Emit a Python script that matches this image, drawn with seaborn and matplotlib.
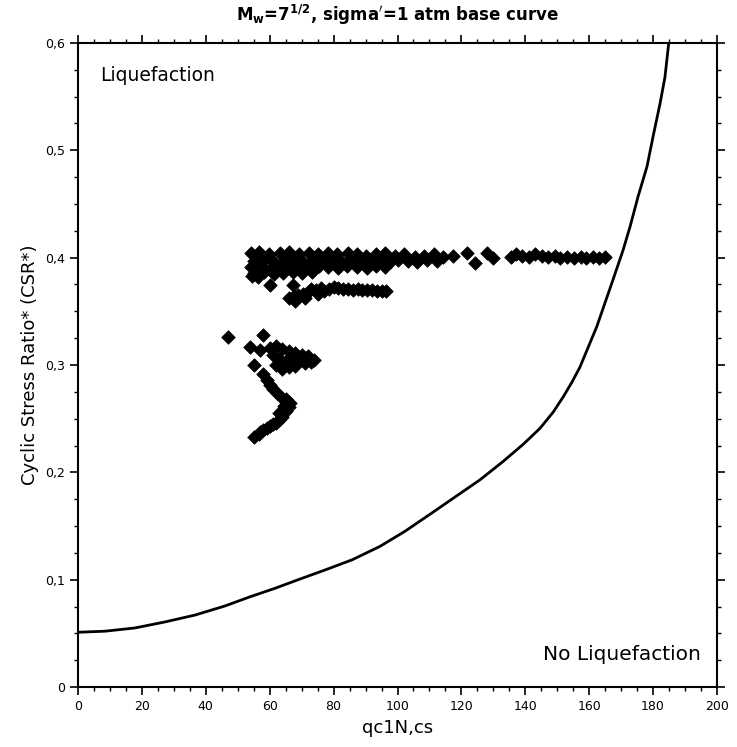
import matplotlib
matplotlib.use("Agg")
import matplotlib.pyplot as plt
import matplotlib.ticker as mticker
import seaborn as sns
import pandas as pd

# Base curve (CRR)
curve_q = [0, 8.5, 17.8, 27.2, 36.6, 46.0, 53.8, 61.7, 69.5, 77.3, 85.8, 94.5,
           102.3, 110.2, 118.0, 125.8, 133.0, 139.3, 144.6, 148.7, 151.8, 154.6,
           157.1, 162.4, 167.4, 170.6, 172.8, 175.3, 178.1, 180.0, 182.2, 183.7,
           184.9]
curve_crr = [0.051, 0.052, 0.055, 0.0606, 0.067, 0.0755, 0.084, 0.092, 0.1006,
             0.109, 0.1185, 0.131, 0.145, 0.161, 0.177, 0.193, 0.210, 0.226, 0.241,
             0.256, 0.270, 0.284, 0.298, 0.336, 0.379, 0.407, 0.429, 0.457, 0.485,
             0.513, 0.544, 0.568, 0.6]

# Upper band of data points
upper_q = [54, 56.5, 59.8, 63.2, 65.9, 69.1, 72.4, 75.2, 78.3, 81.1, 84.6, 87.2,
           90.1, 93.4, 96.2, 99.3, 102.1, 105.4, 108.2, 111.5, 114.3, 117.4,
           55.2, 58.1, 61.3, 64.4, 67.2, 70.5, 73.1, 76.4, 79.2, 82.3, 85.1,
           88.4, 91.2, 94.3, 97.5, 100.2, 103.4, 106.1, 109.3, 112.4,
           54.3, 57.2, 60.4, 63.1, 66.3, 69.2, 72.5, 75.3, 78.1, 81.4, 84.2,
           87.3, 90.4, 93.2, 96.1,
           55.1, 58.3, 61.2, 64.1, 67.4, 70.2, 73.3, 54.4, 56.2,
           121.8, 124.3, 128.0, 129.9,
           135.5, 137.2, 139.1, 141.3, 143.0, 145.2, 147.1, 149.3, 151.0,
           153.2, 155.1, 157.3, 159.0, 161.2, 163.0, 165.0]
upper_crr = [0.404, 0.405, 0.403, 0.404, 0.405, 0.403, 0.404, 0.403, 0.404, 0.403,
             0.404, 0.403, 0.402, 0.403, 0.404, 0.402, 0.403, 0.401, 0.402, 0.403,
             0.401, 0.402,
             0.397, 0.398, 0.396, 0.397, 0.398, 0.396, 0.397, 0.398, 0.396, 0.397,
             0.398, 0.396, 0.397, 0.397, 0.396, 0.398, 0.397, 0.396, 0.398, 0.397,
             0.391, 0.392, 0.390, 0.391, 0.392, 0.390, 0.391, 0.392, 0.391, 0.390,
             0.392, 0.391, 0.390, 0.392, 0.391,
             0.386, 0.387, 0.385, 0.386, 0.387, 0.386, 0.387, 0.383, 0.382,
             0.4045, 0.395, 0.4045, 0.400,
             0.401, 0.403, 0.402, 0.401, 0.403, 0.402, 0.401, 0.402, 0.400,
             0.401, 0.400, 0.401, 0.400, 0.401, 0.400, 0.401]

# Middle band
mid_q = [60.1, 67.3, 66.0, 67.5, 69.0, 70.5, 72.0, 73.0, 74.5, 76.0, 77.0, 78.5,
         80.0, 81.5, 83.0, 84.5, 86.0, 87.5, 89.0, 90.5, 92.0, 93.5, 95.0, 96.5,
         68.0, 71.0, 75.0]
mid_crr = [0.3746, 0.3746, 0.362, 0.364, 0.365, 0.366, 0.368, 0.371, 0.370, 0.372,
           0.369, 0.371, 0.373, 0.372, 0.371, 0.371, 0.370, 0.371, 0.370, 0.370,
           0.370, 0.369, 0.369, 0.369, 0.360, 0.362, 0.366]

# Lower cluster
low_q = [47.0, 58.0, 53.8, 57.0, 55.0, 60, 62, 64, 66, 68, 70, 72, 74, 61, 63, 65,
         67, 69, 71, 73, 62, 64, 66, 68, 58, 59, 60, 61, 62.3, 63.5, 65, 66.4, 66,
         65, 64, 63, 62, 60, 58, 56.5, 55, 57, 59, 61, 63, 64.5]
low_crr = [0.326, 0.328, 0.317, 0.314, 0.300, 0.316, 0.318, 0.315, 0.313, 0.311,
           0.309, 0.308, 0.305, 0.309, 0.306, 0.304, 0.303, 0.305, 0.302, 0.303,
           0.300, 0.296, 0.298, 0.299, 0.292, 0.286, 0.281, 0.278, 0.274, 0.270,
           0.268, 0.265, 0.261, 0.257, 0.252, 0.249, 0.246, 0.243, 0.239, 0.236,
           0.233, 0.238, 0.241, 0.245, 0.255, 0.262]

x_ticks = [0, 20, 40, 60, 80, 100, 120, 140, 160, 180, 200]
y_ticks = [0, 0.1, 0.2, 0.3, 0.4, 0.5, 0.6]
y_tick_labels = ["0", "0,1", "0,2", "0,3", "0,4", "0,5", "0,6"]

sns.set_theme(style="ticks")
plt.rcParams['font.family'] = ['DejaVu Sans']
plt.rcParams['text.color'] = 'black'
plt.rcParams['axes.labelcolor'] = 'black'

pts = pd.DataFrame({"q": upper_q + mid_q + low_q,
                    "crr": upper_crr + mid_crr + low_crr})
curve = pd.DataFrame({"q": curve_q, "crr": curve_crr})

fig = plt.figure(figsize=(7.37, 7.47), dpi=100)
ax = fig.add_axes([78 / 737, 60 / 747, 639 / 737, 644 / 747])

sns.lineplot(data=curve, x="q", y="crr", ax=ax, color="black", linewidth=2,
             sort=False, estimator=None)
sns.scatterplot(data=pts, x="q", y="crr", ax=ax, marker="D", s=48,
                color="black", edgecolor="black", linewidth=0.5)

ax.set_xlim(0, 200)
ax.set_ylim(0, 0.6)
ax.set_xticks(x_ticks)
ax.set_xticklabels([str(t) for t in x_ticks])
ax.set_yticks(y_ticks)
ax.set_yticklabels(y_tick_labels)
ax.xaxis.set_minor_locator(mticker.MultipleLocator(5))
ax.yaxis.set_minor_locator(mticker.MultipleLocator(0.025))
ax.tick_params(which="both", direction="out", top=True, right=True,
               labelsize=9, colors="black")
ax.tick_params(which="major", length=6, width=1.2)
ax.tick_params(which="minor", length=3, width=1)
for sp in ax.spines.values():
    sp.set_visible(True)
    sp.set_linewidth(1.5)
    sp.set_color("black")

ax.set_xlabel("qc1N,cs", fontsize=13, color="black")
ax.set_ylabel("Cyclic Stress Ratio* (CSR*)", fontsize=13, color="black")
ax.set_title(r"M$_\mathbf{w}$=7$^{\mathbf{1/2}}$, sigma$^{\prime}$=1 atm base curve",
             fontsize=12, fontweight="bold", pad=16, color="black")

ax.text(0.034, 0.965, "Liquefaction", transform=ax.transAxes, fontsize=13.5,
        ha="left", va="top", color="black")
ax.text(0.975, 0.035, "No Liquefaction", transform=ax.transAxes, fontsize=14.5,
        ha="right", va="bottom", color="black")

fig.savefig("out.png", dpi=100)
